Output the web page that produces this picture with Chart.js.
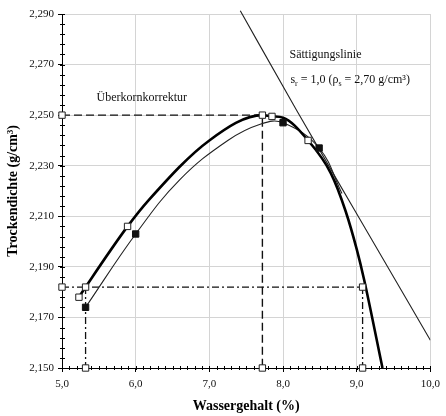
<!DOCTYPE html>
<html>
<head>
<style>
  body { margin: 0; padding: 0; background: #fff; }
  #wrap { width: 446px; height: 416px; }
</style>
</head>
<body>
<div id="wrap"><canvas id="proctorChart"></canvas></div>
<script src="https://cdn.jsdelivr.net/npm/chart.js"></script>
<script>
// tick labels
const xTicks = ['5,0', '6,0', '7,0', '8,0', '9,0', '10,0'];
const yTicks = ['2,150', '2,170', '2,190', '2,210', '2,230', '2,250', '2,270', '2,290'];

// measured points (filled squares)
const wMess = [5.32, 6.00, 8.00, 8.49];
const rhoMess = [2.174, 2.203, 2.247, 2.237];
const wMessKurve = [5.32, 6.00, 6.60, 7.25, 7.70, 8.00, 8.49, 8.80];
const rhoMessKurve = [2.174, 2.203, 2.2245, 2.240, 2.2465, 2.247, 2.237, 2.219];

// corrected points (open squares)
const wKorr = [5.23, 5.89, 7.85, 8.34];
const rhoKorr = [2.178, 2.206, 2.2495, 2.240];
// thick curve (Überkornkorrektur)
const wKorrKurve = [5.23, 5.32, 5.89, 6.18, 7.00, 7.72, 7.85, 8.00, 8.34, 8.65, 8.85, 9.00, 9.10, 9.35];
const rhoKorrKurve = [2.178, 2.182, 2.206, 2.2165, 2.240, 2.250, 2.2495, 2.249, 2.240, 2.227, 2.212, 2.197, 2.185, 2.150];

// Sättigungslinie
const wSatt = [7.42, 8.18, 9.00, 10.00];
const rhoSatt = [2.2913, 2.2521, 2.211, 2.161];

// Proctor maximum and 97 % lines
const wOpt = 7.72;
const rhoMax = 2.250;
const rho97 = 2.182;
const w97 = [5.32, 9.08];

// helper markers on the construction lines (open squares)
const wHilf = [5.0, wOpt, wOpt, 5.0, w97[0], w97[1], w97[0], w97[1]];
const rhoHilf = [rhoMax, rhoMax, 2.150, rho97, rho97, rho97, 2.150, 2.150];

const pts = (xs, ys) => xs.map((v, i) => ({ x: v, y: ys[i] }));
const serif = '"Liberation Serif", "DejaVu Serif", serif';

const minorTicks = {
    id: 'minorTicks',
    beforeDatasetsDraw(chart) {
        const { ctx, scales: { x, y } } = chart;
        ctx.save();
        ctx.strokeStyle = '#000';
        ctx.lineWidth = 1;
        ctx.beginPath();
        for (let i = 0; i <= 50; i++) {
            const px = Math.round(x.getPixelForValue(5 + i * 0.1)) + 0.5;
            ctx.moveTo(px, y.bottom - 2);
            ctx.lineTo(px, y.bottom + 2);
        }
        for (let i = 0; i <= 35; i++) {
            const py = Math.round(y.getPixelForValue(2.150 + i * 0.004)) + 0.5;
            ctx.moveTo(x.left - 2, py);
            ctx.lineTo(x.left + 3, py);
        }
        ctx.stroke();
        ctx.restore();
    }
};

const labels = {
    id: 'labels',
    afterDraw(chart) {
        const { ctx, scales: { x, y } } = chart;
        ctx.save();
        ctx.fillStyle = '#111';
        ctx.textBaseline = 'middle';
        ctx.font = '12px ' + serif;
        ctx.fillText('Überkornkorrektur', x.getPixelForValue(5.468), y.getPixelForValue(2.2568));
        ctx.fillText('Sättigungslinie', x.getPixelForValue(8.088), y.getPixelForValue(2.2738));

        // s_r = 1,0 (rho_s = 2,70 g/cm³) with subscripts
        const parts = [['s', false], ['r', true], [' = 1,0 (ρ', false], ['s', true], [' = 2,70 g/cm³)', false]];
        let px = x.getPixelForValue(8.10);
        const py = y.getPixelForValue(2.264);
        for (const [t, sub] of parts) {
            ctx.font = (sub ? '8px ' : '12px ') + serif;
            ctx.fillText(t, px, sub ? py + 4 : py);
            px += ctx.measureText(t).width;
        }
        ctx.restore();
    }
};

const ctx = document.getElementById('proctorChart').getContext('2d');
new Chart(ctx, {
    type: 'scatter',
    data: {
        datasets: [
            {
                label: 'gemessen',
                data: pts(wMess, rhoMess),
                pointStyle: 'rect',
                pointRadius: 4.5,
                backgroundColor: '#111',
                borderColor: '#111',
                borderWidth: 1,
                clip: false,
                order: 0
            },
            {
                label: 'korrigiert',
                data: pts(wKorr, rhoKorr),
                pointStyle: 'rect',
                pointRadius: 4.5,
                backgroundColor: '#fff',
                borderColor: '#222',
                borderWidth: 1,
                clip: false,
                order: 0
            },
            {
                label: 'Hilfspunkte',
                data: pts(wHilf, rhoHilf),
                pointStyle: 'rect',
                pointRadius: 4.5,
                backgroundColor: '#fff',
                borderColor: '#222',
                borderWidth: 1,
                clip: false,
                order: 0
            },
            {
                label: 'Proctorkurve korrigiert',
                data: pts(wKorrKurve, rhoKorrKurve),
                showLine: true,
                cubicInterpolationMode: 'monotone',
                borderColor: '#000',
                borderWidth: 2.6,
                pointRadius: 0,
                order: 2
            },
            {
                label: 'Proctorkurve',
                data: pts(wMessKurve, rhoMessKurve),
                showLine: true,
                tension: 0.4,
                borderColor: '#222',
                borderWidth: 1.1,
                pointRadius: 0,
                order: 3
            },
            {
                label: 'Sättigungslinie',
                data: pts(wSatt, rhoSatt),
                showLine: true,
                cubicInterpolationMode: 'monotone',
                borderColor: '#222',
                borderWidth: 1.1,
                pointRadius: 0,
                clip: { left: 0, top: 5, right: 0, bottom: 0 },
                order: 3
            },
            {
                label: 'Proctordichte',
                data: pts([5.0, wOpt, wOpt], [rhoMax, rhoMax, 2.150]),
                showLine: true,
                borderColor: '#111',
                borderWidth: 1.4,
                borderDash: [8, 4],
                pointRadius: 0,
                order: 4
            },
            {
                label: '97 %',
                data: pts([5.0, w97[1]], [rho97, rho97]),
                showLine: true,
                borderColor: '#111',
                borderWidth: 1.3,
                borderDash: [7, 3, 2, 3],
                pointRadius: 0,
                order: 4
            },
            {
                label: '97 % links',
                data: pts([w97[0], w97[0]], [rho97, 2.150]),
                showLine: true,
                borderColor: '#111',
                borderWidth: 1.3,
                borderDash: [7, 3, 2, 3],
                pointRadius: 0,
                order: 4
            },
            {
                label: '97 % rechts',
                data: pts([w97[1], w97[1]], [rho97, 2.150]),
                showLine: true,
                borderColor: '#111',
                borderWidth: 1.3,
                borderDash: [7, 3, 2, 3],
                pointRadius: 0,
                order: 4
            }
        ]
    },
    options: {
        responsive: true,
        maintainAspectRatio: false,
        animation: false,
        layout: { padding: { top: 14, right: 10, left: 0, bottom: 0 } },
        plugins: {
            legend: { display: false },
            tooltip: { enabled: false }
        },
        scales: {
            x: {
                type: 'linear',
                min: 5,
                max: 10,
                afterBuildTicks: (s) => { s.ticks = xTicks.map((_, i) => ({ value: 5 + i })); },
                afterFit: (s) => { s.height = 48; },
                ticks: {
                    callback: (v, i) => xTicks[i],
                    color: '#111',
                    padding: 6,
                    maxRotation: 0,
                    font: { family: serif, size: 11 }
                },
                grid: { color: '#d4d4d4', tickColor: '#000', tickLength: 4 },
                border: { color: '#000', width: 1 },
                title: {
                    display: true,
                    text: 'Wassergehalt (%)',
                    color: '#000',
                    padding: { top: 0, bottom: 1 },
                    font: { family: serif, size: 14, weight: 'bold' }
                }
            },
            y: {
                type: 'linear',
                min: 2.150,
                max: 2.290,
                afterBuildTicks: (s) => { s.ticks = yTicks.map((_, i) => ({ value: 2.150 + i * 0.02 })); },
                afterFit: (s) => { s.width = 62; },
                ticks: {
                    callback: (v, i) => yTicks[i],
                    color: '#111',
                    padding: 4,
                    font: { family: serif, size: 11 }
                },
                grid: { color: '#d4d4d4', tickColor: '#000', tickLength: 4 },
                border: { color: '#000', width: 1 },
                title: {
                    display: true,
                    text: 'Trockendichte (g/cm³)',
                    color: '#000',
                    padding: { top: 5, bottom: 0 },
                    font: { family: serif, size: 14, weight: 'bold' }
                }
            }
        }
    },
    plugins: [minorTicks, labels]
});
</script>
</body>
</html>
